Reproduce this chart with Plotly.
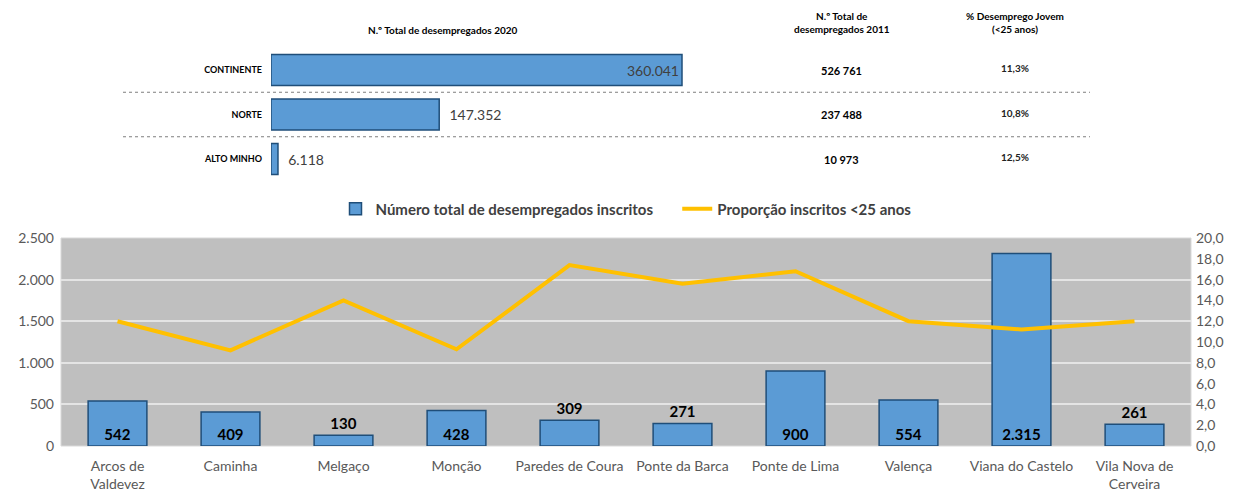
import plotly.graph_objects as go

# ---------------- data ----------------
regions = ["CONTINENTE", "NORTE", "ALTO MINHO"]
desemp_2020 = [360041, 147352, 6118]
desemp_2011 = ["526 761", "237 488", "10 973"]
desemp_jovem = ["11,3%", "10,8%", "12,5%"]

municipios = ["Arcos de<br>Valdevez", "Caminha", "Melgaço", "Monção", "Paredes de Coura",
              "Ponte da Barca", "Ponte de Lima", "Valença", "Viana do Castelo",
              "Vila Nova de<br>Cerveira"]
inscritos = [542, 409, 130, 428, 309, 271, 900, 554, 2315, 261]
prop_menos25 = [12.0, 9.2, 14.0, 9.3, 17.4, 15.6, 16.8, 12.0, 11.2, 12.0]

left_ticks = [0, 500, 1000, 1500, 2000, 2500]
right_ticks = [0, 2, 4, 6, 8, 10, 12, 14, 16, 18, 20]

# ---------------- geometry helpers ----------------
W, H = 1237, 491
def px(x):
    return x / W
def py(y):
    return 1 - y / H

FONT = "Lato, 'Open Sans', sans-serif"
BAR_FILL = "#5B9BD5"
BAR_EDGE = "#1F4E79"
TXT = "#404040"

def fmt_pt(v):
    return f"{v:,}".replace(",", ".")

fig = go.Figure()

# ---------------- top horizontal bars ----------------
top_pos = ["inside" if v > 250000 else "outside" for v in desemp_2020]
top_txt = [fmt_pt(v) if p == "inside" else "&nbsp;&nbsp;" + fmt_pt(v)
           for v, p in zip(desemp_2020, top_pos)]
fig.add_trace(go.Bar(
    y=regions, x=desemp_2020, orientation="h",
    xaxis="x2", yaxis="y3",
    marker=dict(color=BAR_FILL, line=dict(color=BAR_EDGE, width=1.5)),
    width=0.7,
    text=top_txt,
    textposition=top_pos, insidetextanchor="end",
    textfont=dict(family=FONT, size=14, color=TXT),
    cliponaxis=False, showlegend=False, hoverinfo="skip",
))

# ---------------- bottom bars + line ----------------
bar_pos = ["inside" if v > 400 else "outside" for v in inscritos]
fig.add_trace(go.Bar(
    x=municipios, y=inscritos,
    name="<b>Número total de desempregados inscritos</b>&nbsp;&nbsp;&nbsp;&nbsp;&nbsp;",
    marker=dict(color=BAR_FILL, line=dict(color=BAR_EDGE, width=1.5)),
    width=0.52,
    text=[f"<b>{fmt_pt(v)}</b>" for v in inscritos],
    textposition=bar_pos, insidetextanchor="start", textangle=0,
    textfont=dict(family=FONT, size=15, color="black"),
    cliponaxis=False,
))
fig.add_trace(go.Scatter(
    x=municipios, y=prop_menos25, yaxis="y2", mode="lines",
    name="<b>Proporção inscritos <25 anos</b>",
    line=dict(color="#FFC000", width=4),
))

# ---------------- table annotations ----------------
def note(x, y, text, size, color="black", yref="paper", yshift=0):
    return dict(x=x, y=y, xref="paper", yref=yref, text=text, showarrow=False,
                xanchor="center", yanchor="middle", yshift=yshift,
                font=dict(family=FONT, size=size, color=color))

ann = [
    note(px(443), py(30), "<b>N.º Total de desempregados 2020</b>", 10),
    note(px(842), py(23), "<b>N.º Total de<br>desempregados 2011</b>", 10),
    note(px(1015), py(23), "<b>% Desemprego Jovem<br>(<25 anos)</b>", 10),
]
for i, (a, b) in enumerate(zip(desemp_2011, desemp_jovem)):
    ann.append(note(px(842), i, f"<b>{a}</b>", 11, yref="y3"))
    ann.append(note(px(1015), i, f"<b>{b}</b>", 10, color="#222222", yref="y3", yshift=2))

shapes = [
    # grey plot background of the bottom chart
    dict(type="rect", xref="x domain", yref="y domain", x0=0, x1=1, y0=0, y1=1,
         fillcolor="#BFBFBF", line=dict(color="#D9D9D9", width=1), layer="below"),
]
for yy in [0.5, 1.5]:
    shapes.append(dict(type="line", xref="paper", yref="y3", x0=px(123), x1=px(1090),
                       y0=yy, y1=yy, line=dict(color="#7f7f7f", width=1.2, dash="dot")))

tick_font = dict(family=FONT, size=14, color="#595959")

fig.update_layout(
    width=W, height=H,
    margin=dict(l=0, r=0, t=0, b=0, autoexpand=False),
    paper_bgcolor="white", plot_bgcolor="white",
    separators=",.",
    font=dict(family=FONT, color=TXT),
    xaxis=dict(domain=[px(61), px(1191)], tickfont=tick_font, automargin=False,
               showline=False, ticks="", showgrid=False, fixedrange=True,
               ticklabelstandoff=10),
    yaxis=dict(domain=[py(446), py(238)], range=[0, 2500], tickvals=left_ticks,
               tickformat=",.0f", tickfont=tick_font, automargin=False,
               gridcolor="#E4E4E4", gridwidth=1.5, zeroline=False, ticklabelstandoff=6),
    yaxis2=dict(overlaying="y", side="right", range=[0, 20], tickvals=right_ticks,
                tickformat=".1f", showgrid=False, zeroline=False, automargin=False,
                tickfont=tick_font, ticklabelstandoff=4),
    xaxis2=dict(domain=[px(271), px(271 + 411 / 360041 * 400000)], range=[0, 400000],
                anchor="y3", visible=False, fixedrange=True, automargin=False),
    yaxis3=dict(domain=[py(181.25), py(47.75)], anchor="x2", type="category",
                categoryorder="array", categoryarray=regions, range=[2.5, -0.5],
                tickvals=regions, ticktext=[f"<b>{r}</b>" for r in regions],
                tickfont=dict(family=FONT, size=9, color="black"), automargin=False,
                showgrid=False, zeroline=False, showline=False, ticks="",
                ticklabelstandoff=8),
    legend=dict(orientation="h", x=px(626), xanchor="center", y=py(209), yanchor="middle",
                font=dict(family=FONT, size=15, color=TXT), bgcolor="rgba(0,0,0,0)",
                itemwidth=30, tracegroupgap=0),
    annotations=ann, shapes=shapes,
)

fig.write_html("out.html", config={"displayModeBar": False},
               post_script="document.body.style.margin='0';document.body.style.overflow='hidden';")
